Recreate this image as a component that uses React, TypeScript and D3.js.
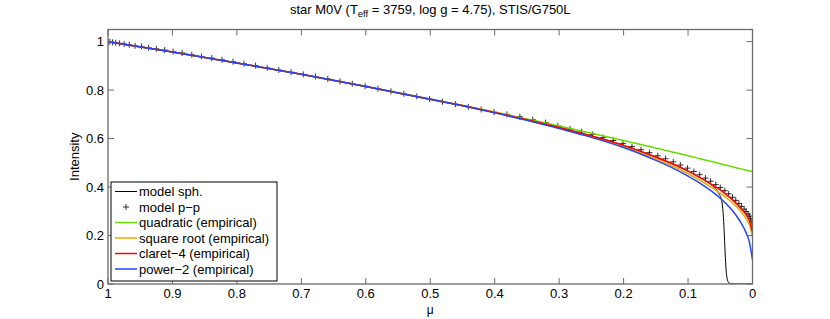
import React from 'react';
import * as d3 from 'd3';

// tick labels
const xTicks = [1, 0.9, 0.8, 0.7, 0.6, 0.5, 0.4, 0.3, 0.2, 0.1, 0];
const yTicks = [0, 0.2, 0.4, 0.6, 0.8, 1];

// mu grid of the fitted laws
const muFit = [0, 0.005, 0.01, 0.02, 0.03, 0.04, 0.05, 0.06, 0.08, 0.1, 0.125, 0.15, 0.2, 0.25, 0.3, 0.35, 0.4, 0.45, 0.5, 0.6, 0.7, 0.8, 0.9, 1];
const quadratic = [0.463, 0.466, 0.47, 0.476, 0.483, 0.49, 0.496, 0.503, 0.516, 0.529, 0.545, 0.561, 0.592, 0.622, 0.652, 0.681, 0.71, 0.737, 0.763, 0.815, 0.865, 0.912, 0.957, 1];
const squareRoot = [0.195, 0.245, 0.27, 0.305, 0.332, 0.354, 0.374, 0.392, 0.425, 0.455, 0.488, 0.517, 0.567, 0.608, 0.644, 0.677, 0.708, 0.736, 0.762, 0.815, 0.865, 0.912, 0.957, 1];
const claret4 = [0.215, 0.263, 0.286, 0.318, 0.345, 0.367, 0.388, 0.405, 0.437, 0.466, 0.497, 0.524, 0.572, 0.611, 0.646, 0.678, 0.708, 0.736, 0.762, 0.815, 0.865, 0.912, 0.957, 1];
const power2 = [0.1, 0.175, 0.212, 0.262, 0.299, 0.329, 0.354, 0.376, 0.413, 0.445, 0.48, 0.51, 0.563, 0.605, 0.641, 0.675, 0.706, 0.735, 0.762, 0.815, 0.865, 0.912, 0.957, 1];

// spherical model
const muSph = [0, 0.03, 0.033, 0.036, 0.038, 0.0395, 0.041, 0.0425, 0.044, 0.0455, 0.047, 0.049, 0.052, 0.055, 0.06, 0.08, 0.1, 0.15, 0.2, 0.25, 0.3, 0.4, 0.5, 0.6, 0.7, 0.8, 0.9, 1];
const sph = [0, 0, 0.001, 0.004, 0.01, 0.025, 0.06, 0.13, 0.22, 0.29, 0.33, 0.355, 0.372, 0.385, 0.4, 0.437, 0.466, 0.524, 0.572, 0.611, 0.646, 0.708, 0.762, 0.815, 0.865, 0.912, 0.957, 1];

// plane-parallel model points
const muPP = [1, 0.997, 0.993, 0.988, 0.982, 0.975, 0.967, 0.958, 0.948, 0.937, 0.925, 0.912, 0.899, 0.885, 0.87, 0.855, 0.839, 0.823, 0.806, 0.789, 0.771, 0.753, 0.735, 0.716, 0.697, 0.678, 0.659, 0.64, 0.621, 0.601, 0.581, 0.561, 0.541, 0.521, 0.501, 0.481, 0.461, 0.441, 0.421, 0.401, 0.381, 0.361, 0.341, 0.321, 0.302, 0.283, 0.265, 0.248, 0.232, 0.216, 0.201, 0.187, 0.173, 0.16, 0.147, 0.135, 0.123, 0.112, 0.101, 0.091, 0.082, 0.073, 0.065, 0.057, 0.05, 0.043, 0.037, 0.031, 0.026, 0.021, 0.017, 0.013, 0.01, 0.007, 0.005, 0.003, 0.001, 0];
const pp = [1, 0.999, 0.997, 0.995, 0.993, 0.99, 0.987, 0.983, 0.98, 0.975, 0.97, 0.965, 0.959, 0.953, 0.946, 0.939, 0.932, 0.925, 0.917, 0.909, 0.901, 0.892, 0.883, 0.874, 0.865, 0.856, 0.846, 0.836, 0.826, 0.816, 0.806, 0.795, 0.785, 0.774, 0.763, 0.752, 0.742, 0.731, 0.72, 0.709, 0.7, 0.69, 0.678, 0.666, 0.653, 0.64, 0.628, 0.617, 0.604, 0.592, 0.58, 0.567, 0.554, 0.542, 0.529, 0.517, 0.504, 0.491, 0.478, 0.464, 0.451, 0.437, 0.424, 0.41, 0.398, 0.385, 0.372, 0.358, 0.345, 0.332, 0.32, 0.309, 0.299, 0.289, 0.28, 0.27, 0.256, 0.24];

const legendItems = [
  { label: 'model sph.', color: '#000000', kind: 'line' },
  { label: 'model p\u2212p', color: '#000000', kind: 'plus' },
  { label: 'quadratic (empirical)', color: '#66dd00', kind: 'line' },
  { label: 'square root (empirical)', color: '#f2aa00', kind: 'line' },
  { label: 'claret\u22124 (empirical)', color: '#ff0000', kind: 'line' },
  { label: 'power\u22122 (empirical)', color: '#2244ff', kind: 'line' },
];

const W = 830;
const H = 319;
const left = 108;
const right = 752.5;
const top = 29.5;
const bottom = 284;
const font = '"Liberation Sans", Arial, Helvetica, sans-serif';
const axisColor = '#6a6a6a';
const fs = 13;

const App = () => {
  const x = d3.scaleLinear().domain([1, 0]).range([left, right]);
  const y = d3.scaleLinear().domain([0, 1.05]).range([bottom, top]);

  const line = d3
    .line<[number, number]>()
    .x((d) => x(d[0]))
    .y((d) => y(d[1]))
    .curve(d3.curveMonotoneX);

  const zip = (mu: number[], v: number[]) => mu.map((m, i) => [m, v[i]] as [number, number]);

  const fits = [
    { v: quadratic, color: legendItems[2].color },
    { v: squareRoot, color: legendItems[3].color },
    { v: claret4, color: legendItems[4].color },
    { v: power2, color: legendItems[5].color },
  ];

  const plus = (cx: number, cy: number, s: number, key: any) => (
    <path key={key} d={`M${cx - s},${cy}H${cx + s}M${cx},${cy - s}V${cy + s}`} stroke='#000' strokeWidth={0.8} fill='none' />
  );

  const legX = 111;
  const legY = 182;
  const legW = 166;
  const legH = 99;
  const rowH = 15.5;

  return (
    <svg width={W} height={H} style={{ position: 'absolute', left: 0, top: 0, background: '#fff' }} fontFamily={font}>
      <rect x={0} y={0} width={W} height={H} fill='#fff' />
      <defs>
        <clipPath id='plotClip'>
          <rect x={left} y={top} width={right - left} height={bottom - top} />
        </clipPath>
      </defs>

      {/* title */}
      <text x={(left + right) / 2} y={14} textAnchor='middle' fontSize={fs} fill='#000'>
        star M0V (T
        <tspan fontSize={9.5} dy={3}>eff</tspan>
        <tspan dy={-3}> = 3759, log g = 4.75), STIS/G750L</tspan>
      </text>

      <g clipPath='url(#plotClip)'>
        <path d={line(zip(muSph, sph)) || ''} fill='none' stroke='#000' strokeWidth={1} />
        {muPP.map((m, i) => plus(x(m), y(pp[i]), 3, i))}
        {fits.map((f, i) => (
          <path key={i} d={line(zip(muFit, f.v)) || ''} fill='none' stroke={f.color} strokeWidth={1.5} />
        ))}
      </g>

      {/* axes box */}
      <rect x={left} y={top} width={right - left} height={bottom - top} fill='none' stroke={axisColor} strokeWidth={1.3} />
      {xTicks.map((t) => (
        <g key={'x' + t}>
          <line x1={x(t)} x2={x(t)} y1={bottom} y2={bottom - 6} stroke={axisColor} strokeWidth={1} />
          <line x1={x(t)} x2={x(t)} y1={top} y2={top + 6} stroke={axisColor} strokeWidth={1} />
          <text x={x(t)} y={298} textAnchor='middle' fontSize={fs} fill='#000'>{t}</text>
        </g>
      ))}
      {yTicks.map((t) => (
        <g key={'y' + t}>
          <line x1={left} x2={left + 6} y1={y(t)} y2={y(t)} stroke={axisColor} strokeWidth={1} />
          <line x1={right} x2={right - 6} y1={y(t)} y2={y(t)} stroke={axisColor} strokeWidth={1} />
          <text x={104} y={y(t) + 4.5} textAnchor='end' fontSize={fs} fill='#000'>{t}</text>
        </g>
      ))}

      {/* axis labels */}
      <text x={(left + right) / 2} y={314} textAnchor='middle' fontSize={12} fill='#000'>μ</text>
      <text transform={`translate(79, ${(top + bottom) / 2}) rotate(-90)`} textAnchor='middle' fontSize={fs} fill='#000'>
        Intensity
      </text>

      {/* legend */}
      <rect x={legX} y={legY} width={legW} height={legH} fill='#fff' stroke='#000' strokeWidth={1} />
      {legendItems.map((d, i) => {
        const cy = legY + 9.5 + i * rowH;
        return (
          <g key={d.label}>
            {d.kind === 'line' ? (
              <line x1={legX + 4} x2={legX + 26} y1={cy} y2={cy} stroke={d.color} strokeWidth={d.color === '#000000' ? 1 : 1.5} />
            ) : (
              plus(legX + 15, cy, 3, 'lp')
            )}
            <text x={legX + 28} y={cy + 4.5} fontSize={fs} fill='#000'>{d.label}</text>
          </g>
        );
      })}
    </svg>
  );
};

export default App;
